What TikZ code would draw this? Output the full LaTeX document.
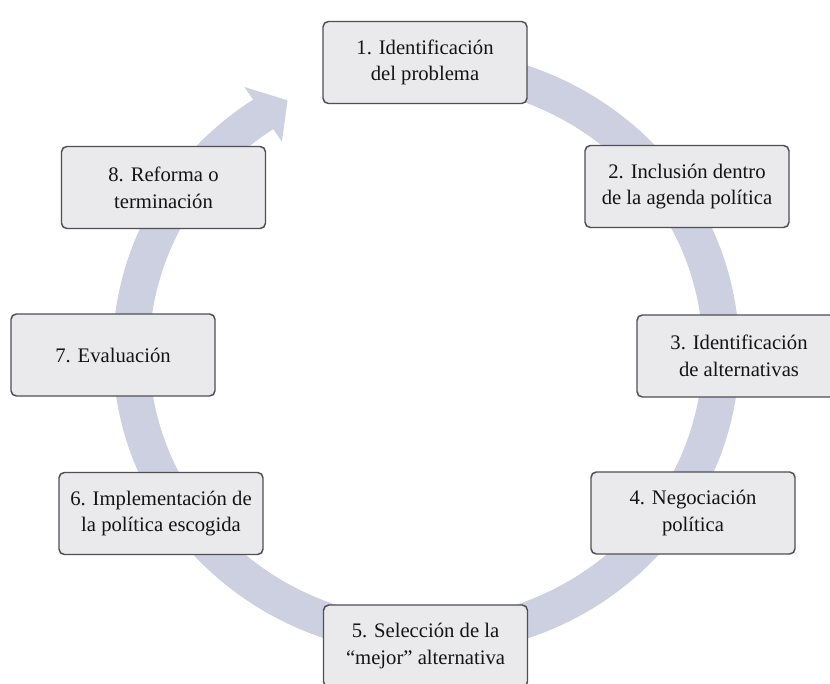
\documentclass[tikz,border=0pt]{standalone}
\usepackage{fontspec}
\setmainfont{Liberation Serif}
\definecolor{ringc}{RGB}{204,208,224}
\definecolor{boxfill}{RGB}{234,234,236}
\definecolor{boxline}{RGB}{78,78,84}
\definecolor{txt}{RGB}{20,20,20}
\begin{document}
\begin{tikzpicture}[x=0.75pt,y=0.75pt,
  stagebox/.style={draw=boxline, line width=1.1pt, fill=boxfill, rounded corners=4pt,
    minimum width=153pt, minimum height=61.5pt, inner sep=2pt, align=center,
    text=txt, font=\fontsize{15.5}{20}\selectfont}]
\useasboundingbox (0,0) rectangle (830,683);
\fill[white] (0,0) rectangle (830,683);
% cycle ring with arrow head
\begin{scope}[shift={(426,331)}, xscale=295, yscale=285]
  \fill[ringc] (100:1.062) arc[start angle=100, end angle=-236.5, radius=1.062]
    -- (-236.5:1.115) -- (-242:1.0) -- (-236.5:0.885) -- (-236.5:0.938)
    arc[start angle=-236.5, end angle=100, radius=0.938] -- cycle;
\end{scope}
% stages
\node[stagebox] (b1) at (425,620.5) {1. Identificación\\del problema};
\node[stagebox] (b2) at (687,496.5) {2. Inclusión dentro\\de la agenda política};
\node[stagebox] (b3) at (739,327) {3. Identificación\\de alternativas};
\node[stagebox] (b4) at (693,170) {4. Negociación\\política};
\node[stagebox] (b5) at (425.5,37) {5. Selección de la\\“mejor” alternativa};
\node[stagebox] (b6) at (161,169.5) {6. Implementación de\\la política escogida};
\node[stagebox] (b7) at (113,328) {7. Evaluación};
\node[stagebox] (b8) at (163.5,495.5) {8. Reforma o\\terminación};
\end{tikzpicture}
\end{document}
